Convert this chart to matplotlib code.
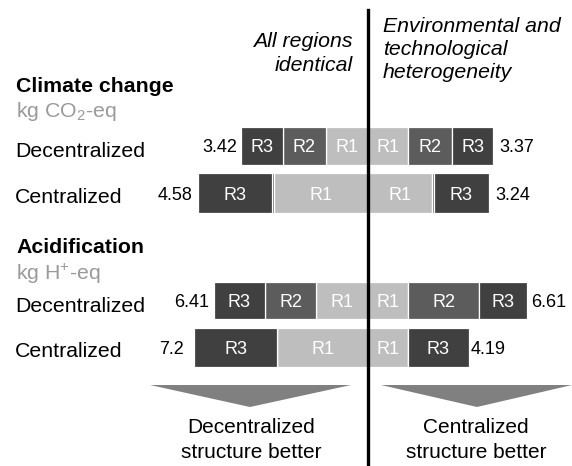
import numpy as np
import matplotlib
matplotlib.use("Agg")
import matplotlib.pyplot as plt
from matplotlib.patches import Polygon
from matplotlib.lines import Line2D

plt.rcParams['font.family'] = ['Liberation Sans', 'DejaVu Sans']
plt.rcParams['mathtext.fontset'] = 'custom'
plt.rcParams['mathtext.rm'] = 'Liberation Sans'
plt.rcParams['mathtext.it'] = 'Liberation Sans:italic'
plt.rcParams['mathtext.bf'] = 'Liberation Sans:bold'

# ---------------- data ----------------
regions = ['R1', 'R2', 'R3']
structures = ['Decentralized', 'Centralized']

# Climate change (kg CO2-eq); left = all regions identical, right = heterogeneity
cc_identical_r1 = [1.14, 2.53]
cc_identical_r2 = [1.14, 0.04]
cc_identical_r3 = [1.14, 2.01]
cc_hetero_r1 = [1.08, 1.72]
cc_hetero_r2 = [1.18, 0.05]
cc_hetero_r3 = [1.11, 1.47]
cc_identical_totals = ['3.42', '4.58']
cc_hetero_totals = ['3.37', '3.24']

# Acidification (kg H+-eq)
ac_identical_r1 = [2.14, 3.76]
ac_identical_r2 = [2.14, 0.00]
ac_identical_r3 = [2.13, 3.44]
ac_hetero_r1 = [1.66, 1.66]
ac_hetero_r2 = [2.95, 0.00]
ac_hetero_r3 = [2.00, 2.53]
ac_identical_totals = ['6.41', '7.2']
ac_hetero_totals = ['6.61', '4.19']

# ---------------- style ----------------
W, H = 572, 466
colors = {'R1': '#bebebe', 'R2': '#5c5c5c', 'R3': '#404040'}
CENTER_X = 368

fig = plt.figure(figsize=(W / 100, H / 100), dpi=100)


def fx(x):
    return x / W


def fy(y):
    return 1 - y / H


def make_axes(row0_center_px, px_per_unit):
    spacing = 47.0
    top = row0_center_px - 0.6 * spacing
    bottom = row0_center_px + 1.6 * spacing
    ax = fig.add_axes([0, fy(bottom), 1, (bottom - top) / H])
    ax.set_xlim(-CENTER_X / px_per_unit, (W - CENTER_X) / px_per_unit)
    ax.set_ylim(1.6, -0.6)
    ax.axis('off')
    return ax


def draw(ax, left_segs, right_segs, left_totals, right_totals, left_pads, right_pads):
    rows = np.arange(len(structures))
    heights = [0.79, 0.83]
    for segs, totals, pads, sign in ((left_segs, left_totals, left_pads, -1),
                                     (right_segs, right_totals, right_pads, 1)):
        cum = np.zeros(len(rows))
        for name, vals in zip(regions, segs):
            vals = np.asarray(vals, dtype=float)
            ax.barh(rows, sign * vals, left=sign * cum, height=heights,
                    color=colors[name], edgecolor='white', linewidth=0.9)
            for i, v in enumerate(vals):
                if v > 0.6:
                    ax.annotate(name, xy=(sign * (cum[i] + v / 2), rows[i]),
                                xytext=(0, -6.5), textcoords='offset pixels',
                                ha='center', va='baseline', color='white',
                                fontsize=13)
            cum += vals
        for i, t in enumerate(totals):
            ax.annotate(t, xy=(sign * cum[i], rows[i]),
                        xytext=(sign * pads[i], -6.5), textcoords='offset pixels',
                        ha='right' if sign < 0 else 'left', va='baseline',
                        color='black', fontsize=13)


ax1 = make_axes(146, 37.2)
draw(ax1, [cc_identical_r1, cc_identical_r2, cc_identical_r3],
     [cc_hetero_r1, cc_hetero_r2, cc_hetero_r3],
     cc_identical_totals, cc_hetero_totals, [4, 5], [6, 7])

ax2 = make_axes(300.5, 24.1)
draw(ax2, [ac_identical_r1, ac_identical_r2, ac_identical_r3],
     [ac_hetero_r1, ac_hetero_r2, ac_hetero_r3],
     ac_identical_totals, ac_hetero_totals, [4, 11], [4, 2])

# ---------------- labels ----------------
FS = 15.3
fig.text(fx(16), fy(92), 'Climate change', fontsize=FS, fontweight='bold', va='baseline')
fig.text(fx(16), fy(117), 'kg CO$_2$-eq', fontsize=FS, color='#9a9a9a', va='baseline')
fig.text(fx(15), fy(157), structures[0], fontsize=FS, va='baseline')
fig.text(fx(15), fy(203), structures[1], fontsize=FS, va='baseline')

fig.text(fx(16), fy(253), 'Acidification', fontsize=FS, fontweight='bold', va='baseline')
fig.text(fx(16), fy(280), 'kg H$^{+}$-eq', fontsize=FS, color='#9a9a9a', va='baseline')
fig.text(fx(15), fy(312), structures[0], fontsize=FS, va='baseline')
fig.text(fx(15), fy(357), structures[1], fontsize=FS, va='baseline')

fig.text(fx(353), fy(47), 'All regions', fontsize=FS, style='italic', ha='right', va='baseline')
fig.text(fx(353), fy(71), 'identical', fontsize=FS, style='italic', ha='right', va='baseline')
fig.text(fx(383), fy(32), 'Environmental and', fontsize=FS, style='italic', ha='left', va='baseline')
fig.text(fx(383), fy(55), 'technological', fontsize=FS, style='italic', ha='left', va='baseline')
fig.text(fx(383), fy(78), 'heterogeneity', fontsize=FS, style='italic', ha='left', va='baseline')

# bottom arrows and captions
arrow_color = '#808080'
fig.add_artist(Polygon([(fx(150), fy(385)), (fx(351), fy(385)), (fx(250), fy(407))],
                       closed=True, facecolor=arrow_color, edgecolor='none',
                       transform=fig.transFigure))
fig.add_artist(Polygon([(fx(381), fy(385)), (fx(572), fy(385)), (fx(477), fy(407))],
                       closed=True, facecolor=arrow_color, edgecolor='none',
                       transform=fig.transFigure))

fig.text(fx(251), fy(433), 'Decentralized', fontsize=15, ha='center', va='baseline')
fig.text(fx(251), fy(458), 'structure better', fontsize=15, ha='center', va='baseline')
fig.text(fx(476), fy(433), 'Centralized', fontsize=15, ha='center', va='baseline')
fig.text(fx(476), fy(458), 'structure better', fontsize=15, ha='center', va='baseline')

# central divider
fig.add_artist(Line2D([fx(CENTER_X), fx(CENTER_X)], [fy(10), fy(466)],
                      color='black', linewidth=2.4, transform=fig.transFigure))

fig.savefig('out.png', dpi=100)
